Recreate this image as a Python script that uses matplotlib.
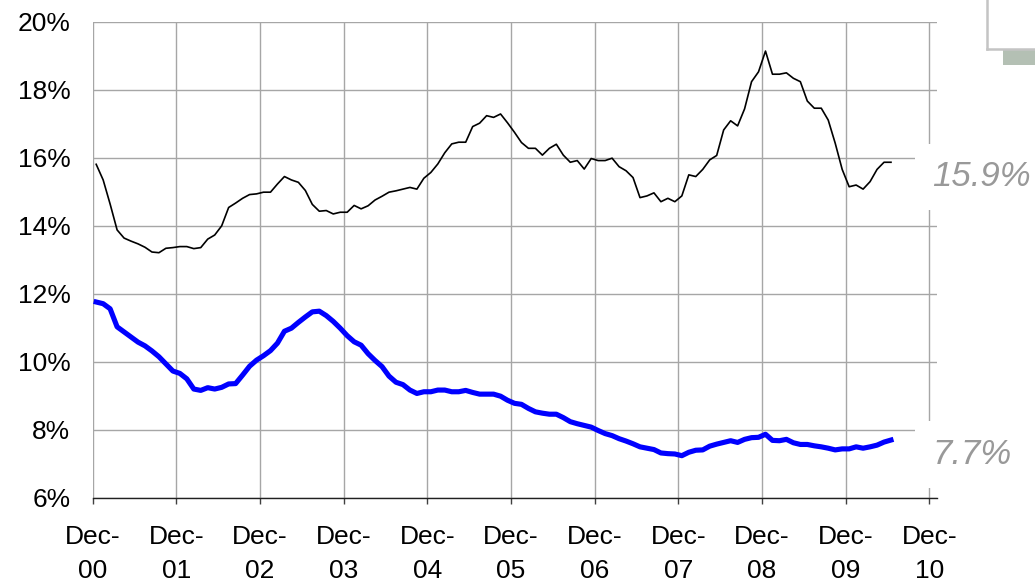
import matplotlib
matplotlib.use("Agg")
import matplotlib.pyplot as plt
import numpy as np
from matplotlib.lines import Line2D
from matplotlib.patches import Rectangle

plt.rcParams["font.family"] = ["Liberation Sans", "DejaVu Sans"]

# monthly values, Dec-00 .. Jun-10 (percent)
black_series = [
    15.80, 15.34, 14.63, 13.87, 13.63, 13.54, 13.46, 13.36, 13.22, 13.20,
    13.33, 13.35, 13.38, 13.38, 13.32, 13.35, 13.60, 13.72, 13.99, 14.53,
    14.66, 14.80, 14.91, 14.93, 14.98, 14.98, 15.22, 15.44, 15.34, 15.27,
    15.03, 14.62, 14.42, 14.44, 14.34, 14.39, 14.39, 14.59, 14.49, 14.58,
    14.75, 14.86, 14.98, 15.02, 15.07, 15.12, 15.07, 15.39, 15.56, 15.81,
    16.14, 16.40, 16.45, 16.45, 16.91, 17.01, 17.23, 17.18, 17.28, 17.02,
    16.74, 16.44, 16.27, 16.27, 16.07, 16.27, 16.39, 16.07, 15.86, 15.91,
    15.66, 15.97, 15.91, 15.91, 15.98, 15.73, 15.61, 15.41, 14.82, 14.87,
    14.96, 14.70, 14.80, 14.70, 14.87, 15.49, 15.44, 15.65, 15.93, 16.06,
    16.81, 17.08, 16.93, 17.43, 18.23, 18.52, 19.13, 18.45, 18.45, 18.49,
    18.33, 18.23, 17.66, 17.45, 17.45, 17.10, 16.42, 15.65, 15.14, 15.19,
    15.07, 15.29, 15.65, 15.86, 15.86,
]

blue_series = [
    11.75, 11.70, 11.55, 11.02, 10.87, 10.72, 10.57, 10.46, 10.31, 10.14,
    9.93, 9.72, 9.65, 9.49, 9.19, 9.15, 9.23, 9.19, 9.24, 9.34,
    9.35, 9.60, 9.86, 10.04, 10.17, 10.32, 10.54, 10.89, 10.98, 11.15,
    11.31, 11.46, 11.48, 11.35, 11.18, 10.98, 10.76, 10.58, 10.48, 10.23,
    10.03, 9.85, 9.57, 9.39, 9.32, 9.16, 9.06, 9.11, 9.11, 9.16,
    9.16, 9.11, 9.11, 9.15, 9.09, 9.04, 9.04, 9.04, 8.98, 8.86,
    8.77, 8.74, 8.62, 8.52, 8.48, 8.45, 8.45, 8.35, 8.23, 8.17,
    8.12, 8.07, 7.97, 7.88, 7.82, 7.73, 7.66, 7.58, 7.49, 7.45,
    7.41, 7.31, 7.29, 7.28, 7.23, 7.33, 7.39, 7.40, 7.51, 7.57,
    7.62, 7.67, 7.62, 7.71, 7.76, 7.77, 7.86, 7.68, 7.67, 7.71,
    7.61, 7.56, 7.56, 7.52, 7.49, 7.45, 7.40, 7.43, 7.43, 7.49,
    7.45, 7.49, 7.54, 7.63, 7.69,
]

tick_months = [0, 12, 24, 36, 48, 60, 72, 84, 96, 108, 120]
tick_labels = ["Dec-\n00", "Dec-\n01", "Dec-\n02", "Dec-\n03", "Dec-\n04", "Dec-\n05",
               "Dec-\n06", "Dec-\n07", "Dec-\n08", "Dec-\n09", "Dec-\n10"]
y_ticks = [6, 8, 10, 12, 14, 16, 18, 20]

# points sit mid-month between the December ticks
months = np.arange(len(black_series)) + 0.5

W, H = 1035, 584
fig = plt.figure(figsize=(W / 100, H / 100), dpi=100)
ax = fig.add_axes([92.7 / W, (H - 497.5) / H, (937 - 92.7) / W, 476 / H])

ax.plot(months, black_series, color="black", lw=1.2, zorder=3)
ax.plot(months, blue_series, color="#0000ff", lw=3.7, zorder=3)

ax.set_xlim(0, 121.1)
ax.set_ylim(6, 20)
ax.set_yticks(y_ticks)
ax.set_yticklabels([f"{v}%" for v in y_ticks])
ax.set_xticks(tick_months)
ax.set_xticklabels(tick_labels, linespacing=1.55)

ax.grid(True, color="#a6a6a6", lw=1.0)
ax.set_axisbelow(True)
for side in ("top", "right", "left"):
    ax.spines[side].set_visible(False)
ax.spines["bottom"].set_color("#202020")
ax.spines["bottom"].set_linewidth(1.0)
ax.tick_params(axis="y", length=0, pad=16, labelsize=19)
ax.tick_params(axis="x", length=4.5, width=1, color="#404040", pad=15, labelsize=19)

# end-of-series value labels
for series in (black_series, blue_series):
    ax.text(120.4, series[-1] - 0.43, f"{series[-1]:.1f}%", fontsize=25, style="italic",
            color="#999999", ha="left", va="center", clip_on=False, zorder=4,
            bbox=dict(facecolor="white", edgecolor="none", pad=12))

# fragment of a box in the top-right corner
fig.add_artist(Line2D([986.5 / W, 986.5 / W], [1, 1 - 49 / H], color="#c4c4c4", lw=1.8))
fig.add_artist(Line2D([986.5 / W, 1], [1 - 49 / H, 1 - 49 / H], color="#c4c4c4", lw=1.8))
fig.add_artist(Rectangle((1003 / W, 1 - 65 / H), 32 / W, 15 / H,
                         transform=fig.transFigure, facecolor="#b4c0b4", edgecolor="none"))

fig.savefig("out.png", dpi=100)
